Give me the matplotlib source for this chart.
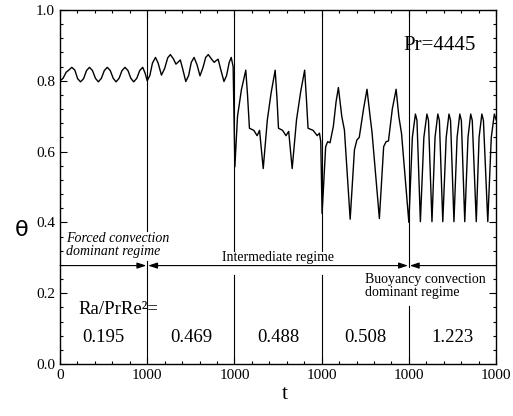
import matplotlib.pyplot as plt
from matplotlib.ticker import MultipleLocator

# Ra/PrRe^2 = 0.195
t1 = [0, 35, 70, 100, 135, 170, 202, 235, 270, 304, 338, 372, 406, 440, 474, 508,
      542, 576, 610, 643, 677, 711, 745, 779, 812, 845, 880, 914, 948, 975, 1000]
th1 = [0.800, 0.807, 0.824, 0.830, 0.838, 0.830, 0.806, 0.797, 0.806, 0.829, 0.838,
       0.829, 0.807, 0.797, 0.807, 0.829, 0.838, 0.829, 0.807, 0.797, 0.807, 0.829,
       0.838, 0.829, 0.807, 0.797, 0.807, 0.829, 0.838, 0.822, 0.800]

# Ra/PrRe^2 = 0.469
t2 = [1030, 1060, 1095, 1125, 1163, 1200, 1235, 1265, 1300, 1329, 1355, 1379, 1405,
      1442, 1475, 1505, 1537, 1570, 1605, 1640, 1670, 1700, 1735, 1768, 1790, 1813,
      1845, 1880, 1910, 1940, 1963, 1985]
th2 = [0.815, 0.850, 0.866, 0.850, 0.816, 0.835, 0.865, 0.874, 0.862, 0.847, 0.853,
       0.859, 0.835, 0.798, 0.815, 0.852, 0.866, 0.846, 0.814, 0.838, 0.866, 0.874,
       0.862, 0.852, 0.857, 0.861, 0.830, 0.798, 0.815, 0.852, 0.866, 0.840]

# Ra/PrRe^2 = 0.488
t3 = [2005, 2035, 2080, 2130, 2150, 2172, 2222, 2260, 2288, 2330, 2377, 2420, 2467,
      2488, 2505, 2552, 2591, 2622, 2662, 2712, 2760, 2805, 2825, 2844, 2902, 2949,
      2975, 2990]
th3 = [0.557, 0.699, 0.775, 0.830, 0.760, 0.666, 0.660, 0.645, 0.660, 0.552, 0.689,
       0.765, 0.830, 0.750, 0.666, 0.660, 0.645, 0.657, 0.552, 0.690, 0.770, 0.830,
       0.750, 0.666, 0.660, 0.645, 0.652, 0.628]

# Ra/PrRe^2 = 0.508
t4 = [3005, 3046, 3069, 3096, 3134, 3165, 3192, 3231, 3261, 3327, 3376, 3404, 3431,
      3480, 3520, 3558, 3577, 3662, 3711, 3739, 3766, 3810, 3854, 3885, 3916, 4000]
th4 = [0.425, 0.614, 0.628, 0.625, 0.671, 0.740, 0.781, 0.699, 0.661, 0.409, 0.605,
       0.633, 0.640, 0.720, 0.776, 0.694, 0.656, 0.411, 0.614, 0.628, 0.630, 0.720,
       0.776, 0.699, 0.651, 0.400]

# Ra/PrRe^2 = 1.223
t5 = [4040, 4075, 4093, 4132, 4172, 4207, 4225, 4265, 4300, 4332, 4350, 4389, 4428,
      4460, 4478, 4517, 4553, 4584, 4602, 4641, 4678, 4709, 4727, 4773, 4805, 4837,
      4855, 4905, 4945, 4980, 5000]
th5 = [0.640, 0.706, 0.688, 0.402, 0.640, 0.706, 0.688, 0.402, 0.640, 0.706, 0.688,
       0.402, 0.640, 0.706, 0.688, 0.402, 0.640, 0.706, 0.688, 0.402, 0.640, 0.706,
       0.688, 0.402, 0.640, 0.706, 0.688, 0.402, 0.640, 0.706, 0.690]

ratios = ["0.195", "0.469", "0.488", "0.508", "1.223"]
xtick_pos = [0, 1000, 2000, 3000, 4000, 5000]
xtick_labels = ["0", "1000", "1000", "1000", "1000", "1000"]
yticks = [0.0, 0.2, 0.4, 0.6, 0.8, 1.0]

plt.rcParams["font.family"] = ["Liberation Serif", "DejaVu Serif"]

fig = plt.figure(figsize=(5.13, 4.16), dpi=100)
ax = fig.add_axes([0.117, 0.125, 0.850, 0.851])

t = t1 + t2 + t3 + t4 + t5
th = th1 + th2 + th3 + th4 + th5
ax.plot(t, th, color="black", lw=1.0, zorder=3)

# vertical separators with gaps where the labels sit
gaps = {1000: (0.29, 0.375), 2000: (0.25, 0.32), 3000: (0.25, 0.32), 4000: (0.165, 0.275)}
for x, (g0, g1) in gaps.items():
    ax.plot([x, x], [0, g0], color="black", lw=0.8, zorder=2)
    ax.plot([x, x], [g1, 1], color="black", lw=0.8, zorder=2)

# regime arrows
ya = 0.278
head = "-|>,head_length=0.55,head_width=0.18"
ax.annotate("", xy=(990, ya), xytext=(0, ya),
            arrowprops=dict(arrowstyle=head, color="black", lw=0.8, shrinkA=0, shrinkB=0))
ax.annotate("", xy=(3990, ya), xytext=(1010, ya),
            arrowprops=dict(arrowstyle="<|-|>,head_length=0.55,head_width=0.18",
                            color="black", lw=0.8, shrinkA=0, shrinkB=0))
ax.annotate("", xy=(4010, ya), xytext=(5000, ya),
            arrowprops=dict(arrowstyle=head, color="black", lw=0.8, shrinkA=0, shrinkB=0))

ax.text(69, 0.337, "Forced convection\ndominant regime", style="italic", fontsize=10,
        ha="left", va="center", linespacing=1.0)
ax.text(2500, 0.302, "Intermediate regime", fontsize=10, ha="center", va="center")
ax.text(3498, 0.219, "Buoyancy convection\ndominant regime", fontsize=10,
        ha="left", va="center", linespacing=1.0)

ax.text(3935, 0.90, "Pr=4445", fontsize=15, ha="left", va="center")
ax.text(206, 0.153, "Ra/PrRe²=", fontsize=13.5, ha="left", va="center")
for i, r in enumerate(ratios):
    ax.text(500 + 1000 * i, 0.075, r, fontsize=13.5, ha="center", va="center")

ax.set_xlim(0, 5000)
ax.set_ylim(0, 1.0)
ax.set_xticks(xtick_pos)
ax.set_xticklabels(xtick_labels)
ax.set_yticks(yticks)
ax.set_yticklabels([f"{v:.1f}" for v in yticks])
ax.xaxis.set_minor_locator(MultipleLocator(200))
ax.yaxis.set_minor_locator(MultipleLocator(0.04))
ax.tick_params(which="both", direction="in", top=True, right=True, width=0.8, labelsize=11)
ax.tick_params(which="major", length=5)
ax.tick_params(which="minor", length=2.5)
for s in ax.spines.values():
    s.set_linewidth(1.0)

ax.set_xlabel("t", fontsize=16)
ax.xaxis.set_label_coords(0.516, -0.06)
ax.set_ylabel("θ", fontsize=16, rotation=0, family="DejaVu Sans")
ax.yaxis.set_label_coords(-0.087, 0.35)

fig.savefig("out.png", dpi=100)
